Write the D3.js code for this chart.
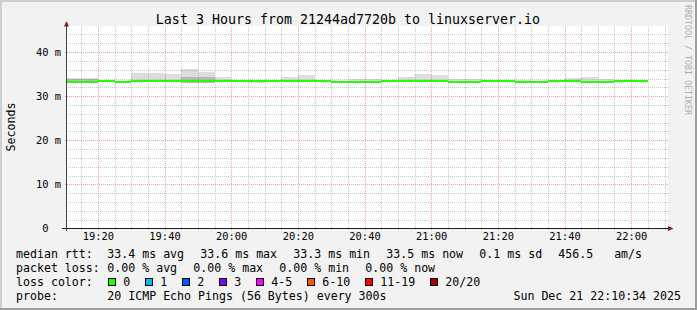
<!DOCTYPE html>
<html><head><meta charset="utf-8">
<script src="https://cdn.jsdelivr.net/npm/d3@7"></script>
<style>
html,body{margin:0;padding:0;background:#f2f2f2;}
svg{display:block;}
text{font-family:"DejaVu Sans Mono",monospace;white-space:pre;}
</style></head><body>
<svg id="c" width="697" height="310"></svg>
<script>
// ---------- data ----------
const titleText = "Last 3 Hours from 21244ad7720b to linuxserver.io";
const viewStart = "19:10:45";
const viewEnd = "22:10:45";
const binStarts = ["19:10","19:15","19:20","19:25","19:30","19:35","19:40","19:45","19:50","19:55",
  "20:00","20:05","20:10","20:15","20:20","20:25","20:30","20:35","20:40","20:45",
  "20:50","20:55","21:00","21:05","21:10","21:15","21:20","21:25","21:30","21:35",
  "21:40","21:45","21:50","21:55","22:00"];
const medianRtt = [33.3,33.3,33.5,33.3,33.5,33.5,33.5,33.5,33.5,33.5,
  33.5,33.5,33.5,33.5,33.5,33.5,33.3,33.3,33.3,33.5,
  33.5,33.5,33.5,33.3,33.3,33.5,33.5,33.3,33.3,33.5,
  33.5,33.3,33.3,33.5,33.5];
const pingMax = [34.2,34.2,33.7,33.5,35.3,35.3,35.0,36.2,35.55,34.3,
  33.6,33.6,33.6,34.3,34.85,33.7,33.4,33.9,33.9,33.6,
  34.3,35.0,34.9,33.85,33.85,33.6,33.6,33.75,33.5,33.6,
  34.1,34.4,33.85,33.6,33.6];
const pingMin = [33.15,33.15,33.35,33.15,33.35,33.35,33.35,32.9,32.9,33.35,
  33.35,33.05,33.35,33.35,33.35,33.35,32.95,33.15,33.15,33.35,
  33.35,33.35,33.35,33.15,33.15,33.35,33.35,33.15,33.05,33.35,
  33.35,33.15,33.15,33.35,33.35];
const innerHi = [33.85,33.85,33.5,33.3,33.5,33.5,33.5,34.45,34.45,33.5,
  33.5,33.5,33.5,33.5,33.5,33.5,33.3,33.3,33.3,33.5,
  33.5,33.5,33.5,33.3,33.3,33.5,33.5,33.3,33.3,33.5,
  33.5,33.3,33.3,33.5,33.5];
const innerLo = [33.3,33.3,33.5,33.3,33.5,33.5,33.5,33.0,33.0,33.5,
  33.5,33.5,33.5,33.5,33.5,33.5,33.3,33.3,33.3,33.5,
  33.5,33.5,33.5,33.3,33.3,33.5,33.5,33.3,33.3,33.5,
  33.5,33.3,33.3,33.5,33.5];
const xTickLabels = ["19:20","19:40","20:00","20:20","20:40","21:00","21:20","21:40","22:00"];
const yTickValues = [0,10,20,30,40];
const yTickLabels = ["0  ","10 m","20 m","30 m","40 m"];
const yMax = 45.8;
const statsLabel1 = "median rtt:";
const statsRow1 = ["33.4 ms avg","33.6 ms max","33.3 ms min","33.5 ms now","0.1 ms sd","456.5   am/s"];
const statsLabel2 = "packet loss:";
const statsRow2 = ["0.00 % avg","0.00 % max","0.00 % min","0.00 % now"];
const lossLabel = "loss color:";
const lossLabels = ["0","1","2","3","4-5","6-10","11-19","20/20"];
const lossColors = ["#26ff00","#00b8ff","#0059ff","#7e00ff","#ff00ff","#ff5500","#ff0000","#a00000"];
const probeLabel = "probe:";
const probeText = "20 ICMP Echo Pings (56 Bytes) every 300s";
const dateText = "Sun Dec 21 22:10:34 2025";
const sideText = "RRDTOOL / TOBI OETIKER";

// ---------- drawing ----------
const W = 697, H = 310;
const svg = d3.select("#c");
const pT = d3.timeParse("%H:%M:%S"), pM = d3.timeParse("%H:%M");
const X0 = 67, X1 = 667, Y0 = 228.5, Y1 = 26.5;
const x = d3.scaleTime().domain([pT(viewStart), pT(viewEnd)]).range([X0, X1]);
const y = d3.scaleLinear().domain([0, yMax]).range([Y0, Y1]);

svg.append("rect").attr("width", W).attr("height", H).attr("fill", "#f2f2f2");
// shading
svg.append("path").attr("d", `M0,0H${W}V2H2V${H}H0Z`).attr("fill", "#cfcfcf");
svg.append("path").attr("d", `M${W},${H}H0V${H-2}H${W-2}V0H${W}Z`).attr("fill", "#9e9e9e");

// canvas
svg.append("rect").attr("x", X0).attr("y", 26).attr("width", X1 - X0 + 1).attr("height", Y0 - 26).attr("fill", "#fff");

// data
const bins = binStarts.map((s, i) => {
  const t0 = pM(s);
  const t1 = d3.timeMinute.offset(t0, 5);
  return {t0, t1, med: medianRtt[i], max: pingMax[i], min: pingMin[i], hi: innerHi[i], lo: innerLo[i]};
});
const bx0 = d => Math.round(Math.max(x(d.t0), X0));
const bx1 = d => Math.round(x(d.t1));
const plot = svg.append("g").attr("shape-rendering", "crispEdges");
plot.selectAll("rect.smoke").data(bins).join("rect").attr("class", "smoke")
  .attr("x", bx0).attr("width", d => bx1(d) - bx0(d))
  .attr("y", d => Math.round(y(d.max))).attr("height", d => Math.round(y(d.min)) - Math.round(y(d.max)))
  .attr("fill", "#dddddd");
plot.selectAll("rect.inner").data(bins.filter(d => d.hi - d.lo > 0.05)).join("rect").attr("class", "inner")
  .attr("x", bx0).attr("width", d => bx1(d) - bx0(d))
  .attr("y", d => Math.round(y(d.hi))).attr("height", d => Math.round(y(d.lo)) - Math.round(y(d.hi)))
  .attr("fill", "#b8b8b8");
const sw = yMax / (Y0 - Y1);
plot.selectAll("rect.med").data(bins).join("rect").attr("class", "med")
  .attr("x", bx0).attr("width", d => bx1(d) - bx0(d))
  .attr("y", d => Math.round(y(d.med + sw))).attr("height", d => Math.round(y(d.med - sw)) - Math.round(y(d.med + sw)))
  .attr("fill", lossColors[0]);

// grid
const grid = svg.append("g").attr("shape-rendering", "crispEdges").attr("fill", "none");
const minorC = "rgba(143,143,143,0.45)", majorC = "rgba(222,79,79,0.5)";
const majorTimes = xTickLabels.map(s => +pM(s));
const minorTimes = x.ticks(d3.timeMinute.every(5)).filter(t => !majorTimes.includes(+t));
grid.selectAll("line.vmin").data(minorTimes).join("line")
  .attr("x1", d => Math.round(x(d)) + 0.5).attr("x2", d => Math.round(x(d)) + 0.5)
  .attr("y1", Y1).attr("y2", Y0 + 1.5).attr("stroke", minorC).attr("stroke-dasharray", "1,1");
grid.selectAll("line.vmaj").data(xTickLabels.map(s => pM(s))).join("line")
  .attr("x1", d => Math.round(x(d)) + 0.5).attr("x2", d => Math.round(x(d)) + 0.5)
  .attr("y1", Y1).attr("y2", Y0 + 2.5).attr("stroke", majorC).attr("stroke-dasharray", "1,1");
const yMinor = d3.range(2, yMax, 2).filter(v => v % 10 !== 0);
const yMajor = yTickValues.filter(v => v > 0);
grid.selectAll("line.hmin").data(yMinor).join("line")
  .attr("x1", X0 - 1).attr("x2", X1 + 2)
  .attr("y1", d => Math.round(y(d)) + 0.5).attr("y2", d => Math.round(y(d)) + 0.5)
  .attr("stroke", minorC).attr("stroke-dasharray", "1,1");
grid.selectAll("line.hmaj").data(yMajor).join("line")
  .attr("x1", X0 - 2).attr("x2", X1 + 2)
  .attr("y1", d => Math.round(y(d)) + 0.5).attr("y2", d => Math.round(y(d)) + 0.5)
  .attr("stroke", majorC).attr("stroke-dasharray", "1,1");

// axes lines + arrows
svg.append("line").attr("x1", 62).attr("x2", 670).attr("y1", Y0).attr("y2", Y0)
  .attr("stroke", "#1f1f1f").attr("stroke-width", 1.2);
svg.append("line").attr("x1", 66.5).attr("x2", 66.5).attr("y1", Y0 + 2.5).attr("y2", 24)
  .attr("stroke", "#444").attr("stroke-width", 1);
svg.append("path").attr("d", "M66.5,21L64,26.5H69Z").attr("fill", "#801f1f");
svg.append("path").attr("d", "M673.5,228.5L668,226V231Z").attr("fill", "#801f1f");

// axis labels via d3 axes
const yAxis = d3.axisLeft(y).tickValues(yTickValues).tickFormat((d, i) => yTickLabels[i]).tickSize(0).tickPadding(6);
const gy = svg.append("g").attr("transform", `translate(${X0},0)`).call(yAxis);
gy.select(".domain").remove();
gy.selectAll("text").attr("font-family", "DejaVu Sans Mono").attr("font-size", 10.4).attr("fill", "#000")
  .attr("xml:space", "preserve");
const xAxis = d3.axisBottom(x).tickValues(xTickLabels.map(s => pM(s))).tickFormat(d3.timeFormat("%H:%M")).tickSize(0).tickPadding(4);
const gx = svg.append("g").attr("transform", `translate(0,${Y0})`).call(xAxis);
gx.select(".domain").remove();
gx.selectAll("text").attr("font-family", "DejaVu Sans Mono").attr("font-size", 10.4).attr("fill", "#000");

// title and side texts
svg.append("text").attr("x", 348).attr("y", 24).attr("text-anchor", "middle")
  .attr("font-size", 13.3).attr("fill", "#000").text(titleText);
svg.append("text").attr("transform", "translate(15,127) rotate(-90)").attr("text-anchor", "middle")
  .attr("font-size", 11.6).attr("fill", "#000").text("Seconds");
svg.append("text").attr("transform", "translate(685,5) rotate(90)").attr("text-anchor", "start")
  .attr("font-size", 8.3).attr("fill", "#b0b0b0").text(sideText);

// legend
const cw = 7.0, lx = 16, vx = 107.3;
const rows = [258.3, 272.3, 286, 300];
const fs = 11.6;
function label(txt, xx, yy, anchor) {
  svg.append("text").attr("x", xx).attr("y", yy).attr("font-size", fs).attr("fill", "#000")
    .attr("text-anchor", anchor || "start").attr("xml:space", "preserve").text(txt);
}
label(statsLabel1, lx, rows[0]);
let cx = vx;
statsRow1.forEach(t => { label(t, cx, rows[0]); cx += t.length * cw + 16; });
label(statsLabel2, lx, rows[1]);
cx = vx;
statsRow2.forEach(t => { label(t, cx, rows[1]); cx += t.length * cw + 16; });
label(lossLabel, lx, rows[2]);
cx = vx + 1;
lossLabels.forEach((t, i) => {
  svg.append("rect").attr("x", Math.round(cx) + 0.5).attr("y", 278.5).attr("width", 7).attr("height", 7)
    .attr("fill", lossColors[i]).attr("stroke", "#000").attr("stroke-width", 1).attr("shape-rendering", "crispEdges");
  label(t, cx + 15, rows[2]);
  cx += 15 + t.length * cw + 15;
});
label(probeLabel, lx, rows[3]);
label(probeText, vx, rows[3]);
label(dateText, 681, rows[3], "end");
</script>
</body></html>
